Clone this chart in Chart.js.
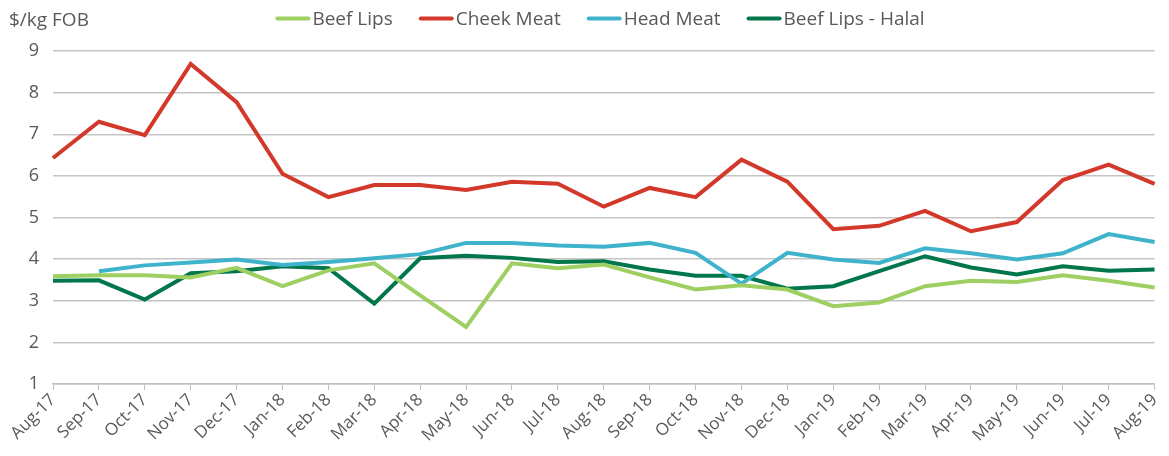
<!DOCTYPE html>
<html>
<head>
<meta charset="utf-8">
<script src="https://cdn.jsdelivr.net/npm/chart.js@4/dist/chart.umd.min.js"></script>
<style>
  html, body { margin: 0; padding: 0; background: #fff; }
  #wrap { position: relative; width: 1169px; height: 456px; }
  #ytitle { position: absolute; left: 9px; top: 6px; font: 19px "Open Sans", sans-serif; color: #595959; line-height: 26px; }
</style>
</head>
<body>
<div id="wrap">
  <canvas id="grafico" width="1169" height="456"></canvas>
  <div id="ytitle">$/kg FOB</div>
</div>
<script>
const meses = ['Aug-17','Sep-17','Oct-17','Nov-17','Dec-17','Jan-18','Feb-18','Mar-18','Apr-18','May-18','Jun-18','Jul-18',
  'Aug-18','Sep-18','Oct-18','Nov-18','Dec-18','Jan-19','Feb-19','Mar-19','Apr-19','May-19','Jun-19','Jul-19','Aug-19'];

const beefLips = [3.59,3.61,3.61,3.56,3.79,3.35,3.73,3.90,3.13,2.37,3.90,3.78,3.87,3.56,3.27,3.37,3.27,2.87,2.96,3.35,3.48,3.45,3.61,3.48,3.32];
const cheekMeat = [6.43,7.30,6.98,8.69,7.77,6.05,5.49,5.78,5.78,5.66,5.86,5.81,5.26,5.71,5.49,6.39,5.86,4.72,4.80,5.16,4.67,4.89,5.90,6.27,5.81];
const headMeat = [null,3.71,3.85,3.92,3.99,3.86,3.93,4.02,4.12,4.39,4.39,4.33,4.30,4.39,4.15,3.41,4.15,3.99,3.91,4.26,4.14,3.99,4.14,4.60,4.41];
const beefLipsHalal = [3.48,3.49,3.03,3.66,3.71,3.83,3.78,2.93,4.02,4.08,4.03,3.93,3.95,3.75,3.60,3.60,3.29,3.35,3.71,4.07,3.80,3.63,3.83,3.72,3.75];

const ticksY = [1,2,3,4,5,6,7,8,9];

const gris = '#595959';
const fuente = '"Open Sans", sans-serif';

function serie(label, data, color) {
  return { label, data, borderColor: color, backgroundColor: color, borderWidth: 4, pointRadius: 0, tension: 0, spanGaps: false };
}

// leyenda propia: linea corta + texto pegado, centrada arriba
const leyenda = {
  id: 'leyenda',
  afterDraw(chart) {
    const ctx = chart.ctx;
    ctx.save();
    ctx.font = '19px ' + fuente;
    const items = chart.data.datasets.map(d => ({ label: d.label, color: d.borderColor, w: ctx.measureText(d.label).width }));
    const largo = 35, hueco = 2, sep = 26, y = 18.5;
    const total = items.reduce((a, it) => a + largo + hueco + it.w, 0) + sep * (items.length - 1);
    let x = 600 - total / 2;
    items.forEach(it => {
      ctx.strokeStyle = it.color;
      ctx.lineWidth = 4;
      ctx.lineCap = 'round';
      ctx.beginPath();
      ctx.moveTo(x + 2, y);
      ctx.lineTo(x + largo - 2, y);
      ctx.stroke();
      ctx.fillStyle = gris;
      ctx.textBaseline = 'middle';
      ctx.fillText(it.label, x + largo + hueco, y + 1);
      x += largo + hueco + it.w + sep;
    });
    ctx.restore();
  }
};

new Chart(document.getElementById('grafico'), {
  type: 'line',
  data: {
    labels: meses,
    datasets: [
      serie('Beef Lips', beefLips, '#9dcf63'),
      serie('Cheek Meat', cheekMeat, '#d2392a'),
      serie('Head Meat', headMeat, '#3fb3cc'),
      serie('Beef Lips - Halal', beefLipsHalal, '#00774b')
    ]
  },
  options: {
    responsive: false,
    devicePixelRatio: 1,
    animation: false,
    layout: { padding: { top: 51, right: 12, left: 0, bottom: 0 } },
    plugins: {
      tooltip: { enabled: false },
      legend: { display: false }
    },
    scales: {
      x: {
        offset: false,
        grid: { display: true, drawOnChartArea: false, drawTicks: true, tickLength: 6, color: '#bfbfbf' },
        border: { color: '#bfbfbf', width: 1.5 },
        ticks: { color: gris, font: { family: fuente, size: 17 }, minRotation: 45, maxRotation: 45, autoSkip: false, padding: 0 },
        afterFit: s => { s.height = 72; }
      },
      y: {
        min: 1, max: 9,
        afterBuildTicks: s => { s.ticks = ticksY.map(v => ({ value: v })); },
        grid: { color: '#c4c4c4', lineWidth: 1.5, drawTicks: false },
        border: { display: false },
        ticks: { color: gris, font: { family: fuente, size: 18 }, padding: 14 },
        afterFit: s => { s.width = 53; }
      }
    }
  },
  plugins: [leyenda]
});
</script>
</body>
</html>
